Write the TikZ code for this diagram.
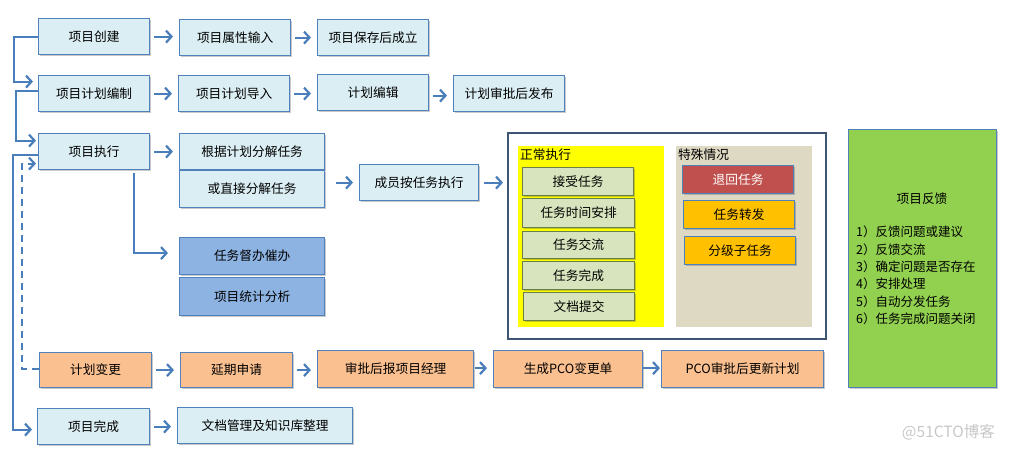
\documentclass[tikz,border=0pt]{standalone}
\usepackage{fontspec}
\setmainfont{Noto Sans CJK SC}
\usetikzlibrary{arrows.meta,shadows,calc}
\definecolor{bd}{HTML}{4F81BD}
\definecolor{arrc}{HTML}{4A7EBB}
\definecolor{lightb}{HTML}{DBEEF4}
\definecolor{orangef}{HTML}{FAC090}
\definecolor{bluef}{HTML}{8DB3E2}
\definecolor{greenf}{HTML}{D7E4BD}
\definecolor{greenbd}{HTML}{6A7F45}
\definecolor{yel}{HTML}{FFFF00}
\definecolor{grayf}{HTML}{DDD9C3}
\definecolor{redf}{HTML}{C0504D}
\definecolor{amber}{HTML}{FFC000}
\definecolor{fbgreen}{HTML}{92D050}
\definecolor{cont}{HTML}{3F5673}
\newcommand{\fs}{\fontsize{12.7pt}{15pt}\selectfont}
\begin{document}
\begin{tikzpicture}[x=1pt,y=-1pt,
  base/.style={draw=bd, line width=1.2pt, anchor=north west, inner sep=0pt, font=\fs,
    drop shadow={shadow xshift=1.2pt,shadow yshift=-1.2pt,opacity=0.3,fill=black!70}},
  sz/.style 2 args={minimum width=#1pt, minimum height=#2pt},
  lb/.style={base, fill=lightb},
  orb/.style={base, fill=orangef},
  blb/.style={base, fill=bluef},
  grb/.style={base, fill=greenf, draw=greenbd},
  rdb/.style={base, fill=redf, text=white},
  amb/.style={base, fill=amber},
  area/.style={anchor=north west, inner sep=0pt},
  arr/.style={draw=arrc, line width=2.2pt, -{Straight Barb[length=5.5pt,width=12pt]}},
  harr/.style={arr, shorten <=4pt, shorten >=6pt},
]
\useasboundingbox (0,0) rectangle (1012,451);
% row 1
\node[lb, sz={111}{36}] (cj) at (38,18) {项目创建};
\node[lb, sz={111}{36}] (sx) at (179,19) {项目属性输入};
\node[lb, sz={111}{36}] (bc) at (317,19) {项目保存后成立};
% row 2
\node[lb, sz={111}{36}] (bz) at (38,75) {项目计划编制};
\node[lb, sz={111}{36}] (dr) at (178,75) {项目计划导入};
\node[lb, sz={111}{36}] (bj) at (317,74) {计划编辑};
\node[lb, sz={111}{36}] (fb) at (453,75) {计划审批后发布};
% row 3
\node[lb, sz={111}{36}] (zx) at (38,133) {项目执行};
\node[lb, sz={145}{36}] (gj) at (179,133) {根据计划分解任务};
\node[lb, sz={145}{37}] (hz) at (179,170) {或直接分解任务};
\node[lb, sz={119}{36}] (cy) at (359,164) {成员按任务执行};
\node[blb, sz={145}{37}] (db) at (179,237) {任务督办催办};
\node[blb, sz={145}{38}] (tj) at (179,277) {项目统计分析};
% container
\node[draw=cont, line width=2pt, area, sz={318}{206}] (ct) at (507,132) {};
\node[area, fill=yel, sz={146}{181}] (yl) at (518,146) {};
\node[area, fill=grayf, sz={136}{181}] (gy) at (676,146) {};
\node[anchor=west, inner sep=0pt, font=\fs] (zcl) at (520,155) {正常执行};
\node[anchor=west, inner sep=0pt, font=\fs] (tsl) at (678,155) {特殊情况};
\node[grb, sz={111}{28}] (js) at (522,167) {接受任务};
\node[grb, sz={112}{29}] (sj) at (522,198) {任务时间安排};
\node[grb, sz={112}{27}] (jl2) at (522,231) {任务交流};
\node[grb, sz={112}{28}] (wcw) at (522,261) {任务完成};
\node[grb, sz={111}{28}] (dtj) at (523,292) {文档提交};
\node[rdb, sz={111}{28}] (th) at (682,165) {退回任务};
\node[amb, sz={111}{28}] (zf) at (683,200) {任务转发};
\node[amb, sz={111}{28}] (zrw) at (684,236) {分级子任务};
% feedback
\node[base, fill=fbgreen, sz={148}{258}] (fk) at (848,129) {};
\node[inner sep=0pt, font=\fs] (fkt) at (922,199) {项目反馈};
\node[anchor=north west, inner sep=0pt, align=left, font=\fontsize{12.5pt}{17.3pt}\selectfont] (fkl) at (856,226)
  {1）反馈问题或建议\\2）反馈交流\\3）确定问题是否存在\\4）安排处理\\5）自动分发任务\\6）任务完成问题关闭};
% row change
\node[orb, sz={112}{35}] (bg) at (39,352) {计划变更};
\node[orb, sz={112}{35}] (yq) at (180,352) {延期申请};
\node[orb, sz={156}{37}] (jl) at (317,350) {审批后报项目经理};
\node[orb, sz={149}{37}] (sc) at (493,350) {生成PCO变更单};
\node[orb, sz={162}{37}] (gx) at (661,350) {PCO审批后更新计划};
% row done
\node[lb, sz={112}{36}] (wc) at (37,408) {项目完成};
\node[lb, sz={175}{36}] (zl) at (177,407) {文档管理及知识库整理};
% watermark
\node[anchor=east, inner sep=0pt, text=black!22, font=\fontsize{15.5pt}{17pt}\selectfont] (wm) at (995,432) {@51CTO博客};
% horizontal arrows
\draw[harr] (cj.east) -- (cj.east -| sx.west);
\draw[harr] (sx.east) -- (sx.east -| bc.west);
\draw[harr] (bz.east) -- (bz.east -| dr.west);
\draw[harr] (dr.east) -- (dr.east -| bj.west);
\draw[harr] ([yshift=-3pt]bj.east) -- ([yshift=-3pt]bj.east -| fb.west);
\draw[harr] (zx.east) -- (zx.east -| gj.west);
\draw[arr, shorten <=11pt, shorten >=6pt] (hz.east |- cy.west) -- (cy.west);
\draw[arr, shorten <=5pt, shorten >=4pt] (cy.east) -- (cy.east -| ct.west);
\draw[harr] (bg.east) -- (bg.east -| yq.west);
\draw[harr] (yq.east) -- (yq.east -| jl.west);
\draw[harr, shorten <=1pt] ([yshift=1pt]jl.east) -- ([yshift=1pt]jl.east -| sc.west);
\draw[arr, shorten >=1pt] ([yshift=1pt]sc.east) -- ([yshift=1pt]sc.east -| gx.west);
\draw[harr] (wc.east) -- (wc.east -| zl.west);
% left connectors
\draw[arr, shorten >=5pt] (cj.west) -- ++(-24,0) |- ([yshift=12pt]bz.west);
\draw[arr, shorten >=2pt] ([yshift=3pt]bz.west) -- ++(-22,0) |- ([yshift=11pt]zx.west);
\draw[arr, shorten >=5pt] ([yshift=-3pt]zx.west) -- ++(-25,0) |- ([yshift=-3pt]wc.west);
\draw[arr, dash pattern=on 7pt off 5pt, shorten >=2pt] ([yshift=1.5pt]bg.west) -- ++(-17,0) |- ([yshift=-12pt]zx.west);
\draw[arr, shorten <=3pt, shorten >=11pt] ([xshift=-16pt]zx.south east) |- ([yshift=3pt]db.west);
\end{tikzpicture}
\end{document}
